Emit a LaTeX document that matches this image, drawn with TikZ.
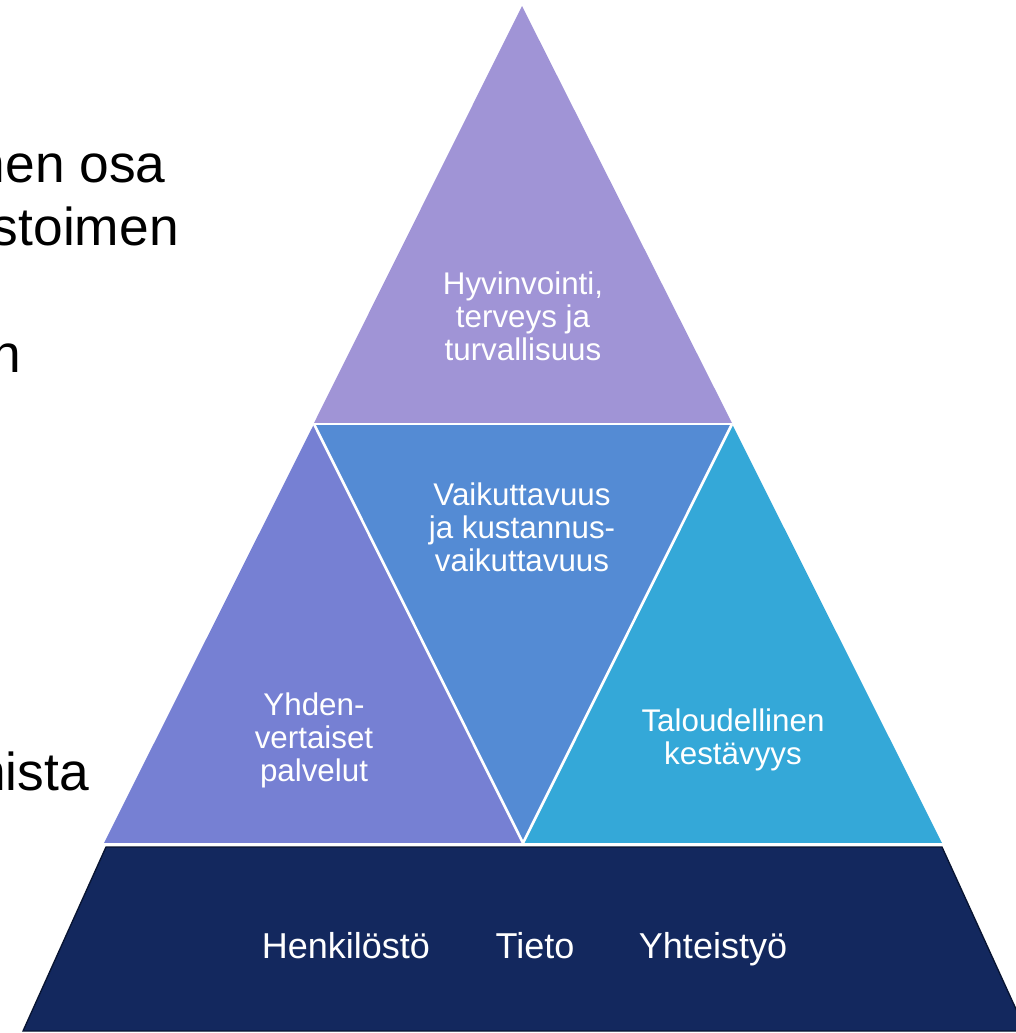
\documentclass[tikz,border=0pt]{standalone}
\usepackage{fontspec}
\setmainfont{Liberation Sans}
\definecolor{ctop}{RGB}{160,148,214}
\definecolor{cleft}{RGB}{118,128,211}
\definecolor{cmid}{RGB}{84,139,212}
\definecolor{cright}{RGB}{52,168,216}
\definecolor{cbase}{RGB}{19,40,94}
\definecolor{cbaseline}{RGB}{8,20,50}
\tikzset{
  seg/.style={draw=white, line width=2pt, line join=miter},
  wtext/.style={text=white, font=\fontsize{23.5}{24.75}\selectfont, align=center, inner sep=0pt, anchor=base},
  btext/.style={text=white, font=\fontsize{27}{30}\selectfont, inner sep=0pt, anchor=base},
  ltext/.style={text=black, font=\fontsize{40}{46}\selectfont, inner sep=0pt, anchor=base east},
}
\begin{document}
\begin{tikzpicture}[x=0.75pt,y=-0.75pt]
\useasboundingbox (0,0) rectangle (1016,1033);
\clip (0,0) rectangle (1016,1033);
% left cropped text (cut at the left edge as in the reference)
\node[ltext] (l1) at (166,182) {nen osa};
\node[ltext] (l2) at (179,245) {stoimen};
\node[ltext] (l3) at (21,372) {n};
\node[ltext] (l4) at (89,790) {nista};
% shapes
\fill[ctop] (522,6) -- (732,423) -- (314,423) -- cycle;
\fill[cleft] (314,424) -- (523,843) -- (104,843) -- cycle;
\fill[cmid] (314,424) -- (732,424) -- (523,843) -- cycle;
\fill[cright] (732,424) -- (942,843) -- (523,843) -- cycle;
\draw[seg] (314,424) -- (732,424);
\draw[seg] (314,424) -- (523,843) -- (732,424);
\fill[white] (100,843) rectangle (950,847);
\draw[fill=cbase, draw=cbaseline, line width=1pt] (106,847) -- (942,847) -- (1026,1031) -- (23,1031) -- cycle;
% texts
\node[wtext] (t1) at (523,294) {Hyvinvointi,};
\node[wtext] (t2) at (523,327) {terveys ja};
\node[wtext] (t3) at (523,360) {turvallisuus};
\node[wtext] (m1) at (522,505) {Vaikuttavuus};
\node[wtext] (m2) at (522,538) {ja kustannus-};
\node[wtext] (m3) at (522,571) {vaikuttavuus};
\node[wtext] (y1) at (314,715) {Yhden-};
\node[wtext] (y2) at (314,748) {vertaiset};
\node[wtext] (y3) at (314,781) {palvelut};
\node[wtext] (k1) at (733,731) {Taloudellinen};
\node[wtext] (k2) at (733,764) {kestävyys};
\node[btext] (b1) at (346,958) {Henkilöstö};
\node[btext] (b2) at (535,958) {Tieto};
\node[btext] (b3) at (713,958) {Yhteistyö};
\end{tikzpicture}
\end{document}
